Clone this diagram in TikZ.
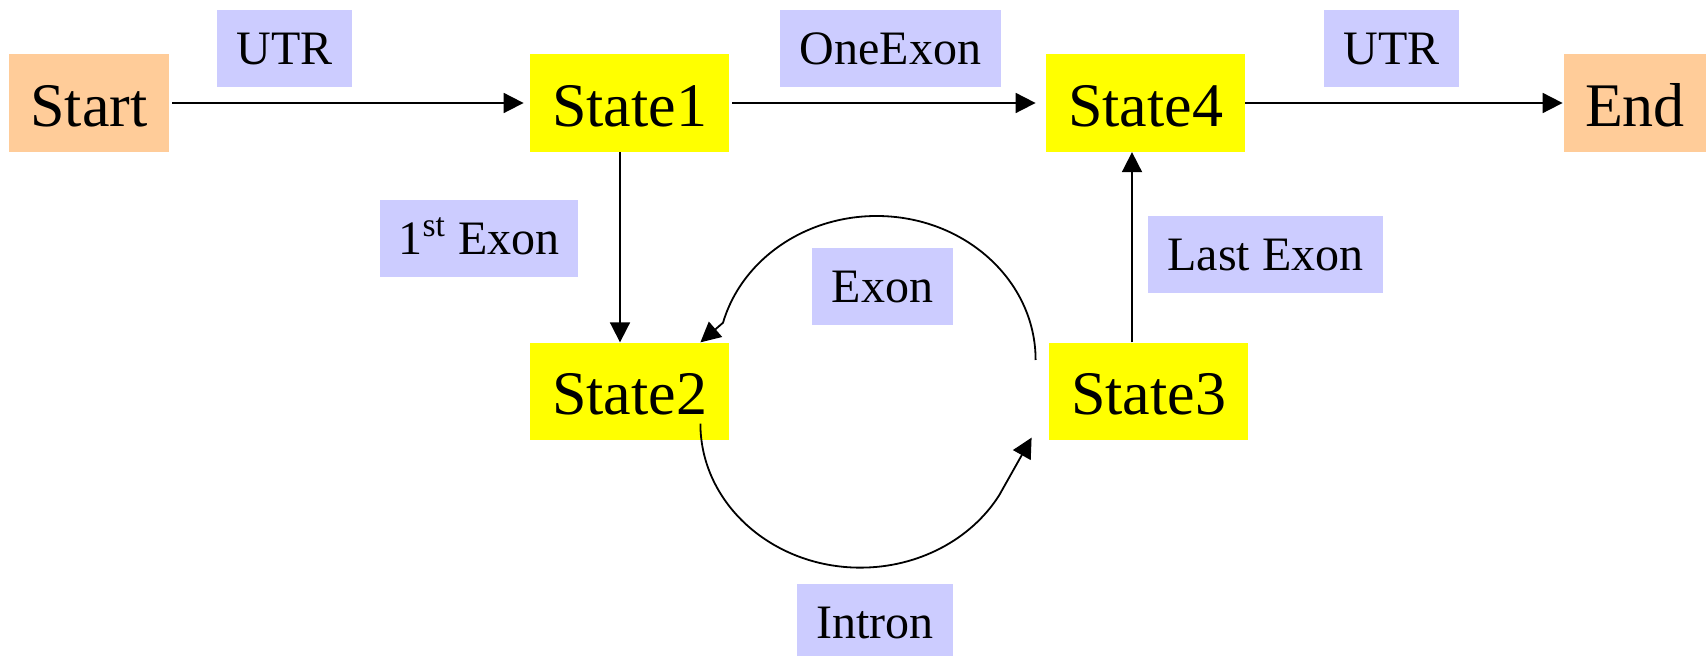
\documentclass[tikz,border=0pt]{standalone}
\usepackage{fontspec}
\setmainfont{Liberation Serif}
\usetikzlibrary{arrows.meta}
\definecolor{stateyellow}{HTML}{FFFF00}
\definecolor{termorange}{HTML}{FFCC99}
\definecolor{labelblue}{HTML}{CCCCFF}
\begin{document}
\begin{tikzpicture}[x=0.5pt,y=-0.5pt,
  statebox/.style={fill=stateyellow, inner sep=0pt, minimum width=99.5pt, minimum height=48.75pt,
    font=\fontsize{31}{36}\selectfont, text height=23.25pt, text depth=0pt},
  termbox/.style={statebox, fill=termorange},
  lab/.style={fill=labelblue, inner sep=0pt, minimum height=38.5pt,
    font=\fontsize{24}{28}\selectfont, text height=16.5pt, text depth=0pt},
  arr/.style={line width=0.9pt, -{Triangle[length=10pt,width=10pt]}}]
\useasboundingbox (0,0) rectangle (1707,656);
% states
\node[termbox, minimum width=80pt] (start) at (89,103) {Start};
\node[statebox] (st1) at (629.5,103) {State1};
\node[statebox] (st4) at (1145.5,103) {State4};
\node[termbox, minimum width=71pt] (end) at (1635,103) {End};
\node[statebox] (st2) at (629.5,391.5) {State2};
\node[statebox] (st3) at (1148.5,391.5) {State3};
% labels
\node[lab, minimum width=67.5pt] (lutr1) at (284.5,48.5) {UTR};
\node[lab, minimum width=110.5pt] (lone) at (890.5,48.5) {OneExon};
\node[lab, minimum width=67.5pt] (lutr2) at (1391.5,48.5) {UTR};
\node[lab, minimum width=99pt] (lfirst) at (479,238.5) {1\textsuperscript{st} Exon};
\node[lab, minimum width=70.5pt] (lexon) at (882.5,286.5) {Exon};
\node[lab, minimum width=117.5pt] (llast) at (1265.5,254.5) {Last Exon};
\node[lab, minimum width=78pt] (lintron) at (875,622.5) {Intron};
% connectors
\draw[arr] ([xshift=1.5pt]start.east) -- ([xshift=-3pt]st1.west);
\draw[arr] ([xshift=1.5pt]st1.east) -- ([xshift=-5pt]st4.west);
\draw[arr] (st4.east) -- ([xshift=-0.5pt]end.west);
\draw[arr] ([xshift=-4.75pt]st1.south) -- ([xshift=-4.75pt]st2.north);
\draw[arr] ([xshift=-8.25pt]st3.north) coordinate (a) -- (a |- st4.south);
\draw[arr] ([xshift=-6.5pt,yshift=15.75pt]st3.west)
  arc[start angle=0, end angle=165, x radius=79.5pt, y radius=72pt]
  -- ([xshift=-14.5pt]st2.north east);
\draw[arr] ([xshift=-14.5pt,yshift=8.5pt]st2.south east)
  arc[start angle=180, end angle=330, x radius=80pt, y radius=72pt]
  -- ([xshift=-8.5pt,yshift=1.5pt]st3.south west);
\end{tikzpicture}
\end{document}
